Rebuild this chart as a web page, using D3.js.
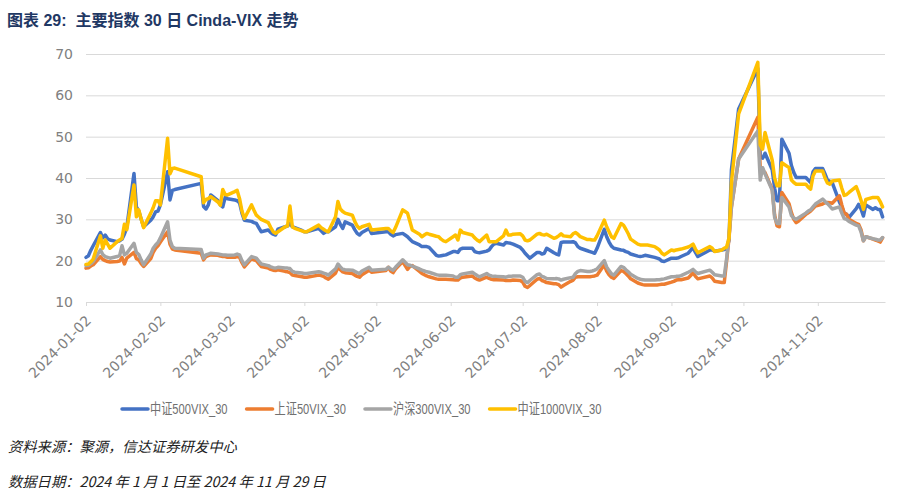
<!DOCTYPE html>
<html><head><meta charset="utf-8">
<script src="https://cdn.jsdelivr.net/npm/d3@7"></script>
<style>
body{margin:0;background:#fff}
svg{display:block}
</style>
</head><body>
<svg id="chart" width="901" height="496"></svg>
<script>
// ---------------- DATA ----------------
const dates = ["2024-01-02","2024-01-03","2024-01-04","2024-01-05","2024-01-08","2024-01-09","2024-01-10","2024-01-11","2024-01-12","2024-01-15","2024-01-16","2024-01-17","2024-01-18","2024-01-19","2024-01-22","2024-01-23","2024-01-24","2024-01-25","2024-01-26","2024-01-29","2024-01-30","2024-01-31","2024-02-01","2024-02-02","2024-02-05","2024-02-06","2024-02-07","2024-02-08","2024-02-19","2024-02-20","2024-02-21","2024-02-22","2024-02-23","2024-02-26","2024-02-27","2024-02-28","2024-02-29","2024-03-01","2024-03-04","2024-03-05","2024-03-06","2024-03-07","2024-03-08","2024-03-11","2024-03-12","2024-03-13","2024-03-14","2024-03-15","2024-03-18","2024-03-19","2024-03-20","2024-03-21","2024-03-22","2024-03-25","2024-03-26","2024-03-27","2024-03-28","2024-03-29","2024-04-01","2024-04-02","2024-04-03","2024-04-08","2024-04-09","2024-04-10","2024-04-11","2024-04-12","2024-04-15","2024-04-16","2024-04-17","2024-04-18","2024-04-19","2024-04-22","2024-04-23","2024-04-24","2024-04-25","2024-04-26","2024-04-29","2024-04-30","2024-05-06","2024-05-07","2024-05-08","2024-05-09","2024-05-10","2024-05-13","2024-05-14","2024-05-15","2024-05-16","2024-05-17","2024-05-20","2024-05-21","2024-05-22","2024-05-23","2024-05-24","2024-05-27","2024-05-28","2024-05-29","2024-05-30","2024-05-31","2024-06-03","2024-06-04","2024-06-05","2024-06-06","2024-06-07","2024-06-11","2024-06-12","2024-06-13","2024-06-14","2024-06-17","2024-06-18","2024-06-19","2024-06-20","2024-06-21","2024-06-24","2024-06-25","2024-06-26","2024-06-27","2024-06-28","2024-07-01","2024-07-02","2024-07-03","2024-07-04","2024-07-05","2024-07-08","2024-07-09","2024-07-10","2024-07-11","2024-07-12","2024-07-15","2024-07-16","2024-07-17","2024-07-18","2024-07-19","2024-07-22","2024-07-23","2024-07-24","2024-07-25","2024-07-26","2024-07-29","2024-07-30","2024-07-31","2024-08-01","2024-08-02","2024-08-05","2024-08-06","2024-08-07","2024-08-08","2024-08-09","2024-08-12","2024-08-13","2024-08-14","2024-08-15","2024-08-16","2024-08-19","2024-08-20","2024-08-21","2024-08-22","2024-08-23","2024-08-26","2024-08-27","2024-08-28","2024-08-29","2024-08-30","2024-09-02","2024-09-03","2024-09-04","2024-09-05","2024-09-06","2024-09-09","2024-09-10","2024-09-11","2024-09-12","2024-09-13","2024-09-18","2024-09-19","2024-09-20","2024-09-23","2024-09-24","2024-09-25","2024-09-26","2024-09-27","2024-09-30","2024-10-08","2024-10-09","2024-10-10","2024-10-11","2024-10-14","2024-10-15","2024-10-16","2024-10-17","2024-10-18","2024-10-21","2024-10-22","2024-10-23","2024-10-24","2024-10-25","2024-10-28","2024-10-29","2024-10-30","2024-10-31","2024-11-01","2024-11-04","2024-11-05","2024-11-06","2024-11-07","2024-11-08","2024-11-11","2024-11-12","2024-11-13","2024-11-14","2024-11-15","2024-11-18","2024-11-19","2024-11-20","2024-11-21","2024-11-22","2024-11-25","2024-11-26","2024-11-27","2024-11-28","2024-11-29"];

// 中证500VIX_30
const csi500 = [20.8,21.2,22.5,23.6,26.8,25.5,26.2,25.3,25.0,24.6,24.8,25.2,26.4,28.0,41.1,33.0,32.0,30.0,28.2,29.8,30.6,31.8,32.0,33.5,41.5,34.7,37.0,37.2,38.7,33.1,32.5,33.5,35.9,34.5,33.5,33.0,35.3,35.0,34.7,34.5,34.0,31.5,29.8,29.5,29.2,29.0,28.0,27.0,27.4,26.8,26.4,26.2,27.6,28.2,28.4,29.0,28.2,28.0,27.3,27.0,27.0,27.8,27.2,26.6,27.0,27.0,28.2,30.0,28.8,27.8,29.4,28.6,27.5,26.6,26.2,26.8,27.8,26.6,27.0,27.0,26.4,26.0,26.3,26.6,26.2,25.8,25.2,24.6,23.8,23.4,23.4,23.4,23.2,21.3,21.1,21.2,21.3,21.4,22.2,22.2,22.0,22.8,23.0,23.0,22.2,22.0,21.9,22.3,22.6,23.4,24.0,24.2,23.8,24.4,24.3,24.2,24.0,23.2,22.6,21.8,21.2,20.6,22.0,22.0,21.6,21.8,23.0,21.9,21.6,21.4,24.4,24.5,24.5,24.6,24.3,23.4,23.0,22.4,22.2,22.0,21.8,23.0,27.6,25.8,24.5,23.5,23.0,22.6,22.5,22.2,22.0,21.6,21.1,21.0,21.1,21.3,21.2,20.8,20.6,20.4,19.9,19.8,20.6,20.6,20.6,20.7,21.0,21.8,22.5,23.2,22.0,21.0,22.6,22.6,22.3,22.6,22.7,22.9,25.0,42.0,56.7,66.5,45.0,44.8,46.0,42.0,37.5,34.5,34.5,49.4,46.0,43.0,41.3,40.1,40.1,40.1,39.5,38.9,41.5,42.3,42.3,41.0,39.5,39.2,38.9,34.2,33.0,31.5,31.2,30.5,32.6,33.6,32.5,30.8,33.5,32.4,32.8,32.4,32.4,30.6];

// 上证50VIX_30
const sse50 = [18.2,18.3,18.7,19.0,21.0,20.3,20.0,19.8,19.7,19.8,19.9,20.8,19.2,20.6,22.0,20.5,20.2,19.3,18.6,20.5,22.0,23.0,23.6,24.5,27.0,24.0,22.8,22.6,21.8,20.2,21.0,21.2,21.4,21.3,21.1,21.0,21.0,20.8,20.8,21.0,20.8,19.5,18.5,20.5,20.2,20.0,19.3,18.6,18.2,17.9,17.7,17.6,17.8,17.4,17.3,17.1,16.5,16.4,16.1,16.0,16.0,16.5,16.4,16.2,15.8,15.5,17.0,18.4,17.8,17.3,17.1,16.9,16.5,16.2,16.0,16.6,17.7,17.2,17.6,18.4,17.5,17.1,18.0,19.8,18.8,17.9,18.6,18.8,17.4,16.9,16.6,16.3,16.1,15.6,15.5,15.5,15.5,15.5,15.4,15.3,15.3,15.8,16.0,16.3,15.8,15.5,15.3,16.0,15.7,15.5,15.4,15.4,15.3,15.2,15.2,15.2,15.3,15.2,14.8,13.8,13.5,14.0,15.5,15.7,15.2,15.0,14.7,14.4,14.4,14.2,13.6,14.0,15.0,15.3,16.0,16.1,16.1,16.1,16.1,16.2,16.3,16.5,19.0,17.5,16.6,16.0,15.7,17.6,17.4,16.9,16.3,15.6,14.6,14.4,14.2,14.1,14.1,14.1,14.1,14.2,14.3,14.3,14.8,15.0,15.3,15.4,15.4,15.8,16.4,17.1,16.2,15.6,16.3,15.8,15.0,14.7,14.7,20.0,25.5,33.0,44.6,54.7,42.5,41.8,41.3,37.3,31.0,28.4,28.2,36.5,33.8,31.6,30.0,29.2,29.6,31.2,31.6,32.0,32.6,33.2,33.7,34.0,34.1,34.0,33.9,35.7,33.5,31.5,31.2,30.0,29.0,28.8,27.5,24.8,25.8,25.2,25.0,24.8,24.5,25.5];

// 沪深300VIX_30
const csi300 = [18.8,18.9,19.3,19.8,22.6,21.5,21.0,20.8,20.6,21.0,21.2,23.6,21.4,21.8,24.2,22.0,21.5,20.2,19.0,21.6,23.0,23.8,24.4,25.5,29.4,25.0,23.4,23.0,22.7,20.6,21.4,21.6,21.8,21.6,21.5,21.4,21.4,21.3,21.4,21.6,21.4,20.0,19.0,21.0,20.8,20.6,19.9,19.2,18.8,18.5,18.3,18.2,18.4,18.2,18.2,18.1,17.4,17.2,17.0,16.9,16.9,17.3,17.2,17.0,16.8,16.5,18.0,19.2,18.5,17.9,17.8,17.7,17.4,17.1,16.9,17.5,18.4,17.7,17.9,18.4,18.0,17.7,18.4,20.2,19.6,19.0,18.9,18.7,18.0,17.7,17.5,17.3,17.2,16.6,16.5,16.5,16.5,16.5,16.3,16.0,16.0,16.6,16.8,17.2,16.8,16.4,16.1,16.9,16.5,16.3,16.2,16.2,16.1,16.0,16.2,16.2,16.3,16.3,16.0,15.0,14.7,15.2,16.6,16.8,16.2,16.0,15.7,15.6,15.7,15.6,15.3,15.5,15.9,16.0,16.9,17.4,17.6,17.4,17.4,17.5,17.7,18.0,20.0,18.5,17.6,16.8,16.5,18.6,18.4,17.8,17.3,16.7,15.7,15.5,15.4,15.3,15.3,15.3,15.4,15.4,15.5,15.6,16.1,16.1,16.2,16.2,16.4,17.2,17.5,17.9,17.3,16.9,17.7,17.2,16.6,16.3,16.3,20.5,26.0,33.0,44.6,51.4,39.5,42.5,41.0,37.0,30.5,29.0,29.0,35.3,33.0,30.9,30.3,30.0,30.4,31.5,32.0,32.3,33.0,33.7,34.9,34.3,33.8,33.2,32.5,33.0,31.5,30.2,30.0,29.5,28.6,28.4,27.0,24.8,25.8,25.3,25.2,25.0,25.0,25.6];

// 中证1000VIX_30
const csi1000 = [19.1,19.2,19.7,20.4,26.0,23.0,25.0,24.0,23.0,24.6,25.0,25.4,28.8,27.5,38.3,30.6,32.3,30.0,28.0,31.5,32.8,34.5,34.5,33.5,49.6,41.0,42.3,42.4,40.3,34.0,34.8,35.0,35.5,34.2,33.4,37.2,36.0,35.9,36.7,37.0,35.0,32.0,30.2,33.5,32.2,31.0,30.5,30.0,29.2,28.0,27.0,26.6,27.0,28.2,28.4,33.2,28.2,27.8,27.2,27.0,27.0,28.6,28.0,27.6,27.2,27.0,30.6,34.3,32.5,31.9,31.5,31.0,29.5,28.4,27.8,28.2,28.8,27.4,27.8,27.8,27.2,26.8,28.0,32.3,31.9,31.5,29.5,27.4,26.4,25.8,26.2,26.6,26.4,25.9,25.8,25.2,24.8,24.6,25.8,26.2,25.0,27.4,26.8,26.2,25.5,25.0,24.6,26.2,24.6,24.6,24.6,24.6,26.0,27.4,26.2,26.2,26.4,26.5,26.0,25.0,24.8,25.0,26.4,26.6,26.3,26.2,26.4,25.4,25.6,26.0,26.5,26.0,25.8,26.5,26.8,26.4,25.8,25.1,25.1,25.0,25.0,26.0,29.8,28.2,27.0,25.8,25.4,29.0,28.6,27.6,26.5,25.2,24.0,23.8,23.8,23.8,23.8,23.4,23.0,22.6,21.8,21.4,22.6,22.4,22.6,22.7,22.8,23.3,23.6,24.0,22.8,21.9,23.4,23.0,22.2,22.6,23.0,23.3,25.5,39.0,55.5,68.0,48.0,47.0,51.0,44.3,40.0,38.1,38.1,43.7,42.5,39.5,38.9,38.5,38.5,38.5,37.8,37.3,40.5,41.7,41.7,40.0,38.8,38.5,39.3,39.5,37.5,35.8,36.0,36.5,37.9,36.4,34.6,32.4,34.8,35.3,35.3,35.3,34.3,33.0];

const seriesNames  = ["中证500VIX_30","上证50VIX_30","沪深300VIX_30","中证1000VIX_30"];
const seriesValues = [csi500, sse50, csi300, csi1000];
const seriesColors = ["#4472C4","#ED7D31","#A5A5A5","#FFC000"];
const xTickLabels  = ["2024-01-02","2024-02-02","2024-03-02","2024-04-02","2024-05-02","2024-06-02","2024-07-02","2024-08-02","2024-09-02","2024-10-02","2024-11-02"];
const yTicks       = [10,20,30,40,50,60,70];
const titleText    = "图表 29:  主要指数 30 日 Cinda-VIX 走势";
const sourceText   = "资料来源：聚源，信达证券研发中心";
const dateText     = "数据日期：2024 年 1 月 1 日至 2024 年 11 月 29 日";

// ---------------- CHART ----------------
const svg = d3.select("#chart");
const parse = d3.timeParse("%Y-%m-%d");
const fmt = d3.timeFormat("%Y-%m-%d");
const mLeft = 86, mRight = 885, mTop = 54, mBottom = 302;

const x = d3.scaleTime().domain([parse("2024-01-02"), parse("2024-11-30")]).range([mLeft, mRight]);
const y = d3.scaleLinear().domain([10, 70]).range([mBottom, mTop]);

const axisFont = "'DejaVu Sans', 'Noto Sans CJK SC', sans-serif";
const gridColor = "#d9d9d9";
const labelColor = "#808080";

// title
svg.append("text")
  .attr("x", 7).attr("y", 26)
  .attr("font-family", "'Liberation Sans', 'Noto Sans CJK SC', sans-serif")
  .attr("font-weight", "bold").attr("font-size", 16)
  .attr("fill", "#1f3864")
  .style("white-space", "pre")
  .text(titleText);

// y axis + gridlines
const yAxis = svg.append("g")
  .attr("transform", `translate(${mLeft},0)`)
  .call(d3.axisLeft(y).tickValues(yTicks).tickSize(-(mRight - mLeft)).tickPadding(13).tickFormat(d3.format("d")));
yAxis.select(".domain").remove();
yAxis.selectAll(".tick line").attr("stroke", gridColor).attr("stroke-width", 1);
yAxis.selectAll(".tick text")
  .attr("font-family", axisFont).attr("font-size", 14).attr("fill", labelColor);

// x axis
const xTicks = xTickLabels.map(parse);
const xAxis = svg.append("g")
  .attr("transform", `translate(0,${mBottom})`)
  .call(d3.axisBottom(x).tickValues(xTicks).tickSize(4).tickSizeOuter(0).tickFormat(fmt));
xAxis.select(".domain").attr("stroke", gridColor).attr("stroke-width", 1);
xAxis.selectAll(".tick line").attr("stroke", gridColor);
xAxis.selectAll(".tick text")
  .attr("font-family", axisFont).attr("font-size", 14).attr("fill", labelColor)
  .attr("x", 0).attr("y", 0).attr("dy", "0.35em")
  .attr("text-anchor", "end")
  .attr("transform", "translate(2,16) rotate(-45)");

// lines
const parsedDates = dates.map(parse);
const line = d3.line().x(d => x(d[0])).y(d => y(d[1]));
seriesValues.forEach((vals, i) => {
  const pts = parsedDates.map((d, j) => [d, vals[j]]);
  svg.append("path")
    .datum(pts)
    .attr("d", line)
    .attr("fill", "none")
    .attr("stroke", seriesColors[i])
    .attr("stroke-width", 3.5)
    .attr("stroke-linejoin", "round")
    .attr("stroke-linecap", "round");
});

// legend (condensed text like the original)
const legend = svg.append("g").attr("transform", "translate(0,409)");
const legendSqueeze = 0.77;
let cx = 122;
seriesNames.forEach((name, i) => {
  legend.append("line")
    .attr("x1", cx).attr("x2", cx + 26).attr("y1", 0).attr("y2", 0)
    .attr("stroke", seriesColors[i]).attr("stroke-width", 3.5).attr("stroke-linecap", "round");
  const t = legend.append("text")
    .attr("x", cx + 28).attr("y", 0).attr("dy", "0.37em")
    .attr("font-family", "'Liberation Sans', 'Noto Sans CJK SC', sans-serif")
    .attr("font-size", 14.5).attr("fill", "#707070")
    .text(name);
  const w = t.node().getComputedTextLength() * legendSqueeze;
  t.attr("textLength", w).attr("lengthAdjust", "spacingAndGlyphs");
  cx += 28 + w + 19;
});

// footer
const footFont = "'Noto Sans CJK SC', 'Liberation Sans', sans-serif";
svg.append("text").attr("x", 8).attr("y", 452)
  .attr("font-family", footFont).attr("font-size", 14.3).attr("font-style", "italic")
  .attr("fill", "#222").text(sourceText);
svg.append("text").attr("x", 8).attr("y", 487)
  .attr("font-family", footFont).attr("font-size", 14.3).attr("font-style", "italic")
  .attr("fill", "#222").text(dateText);
</script>
</body></html>
